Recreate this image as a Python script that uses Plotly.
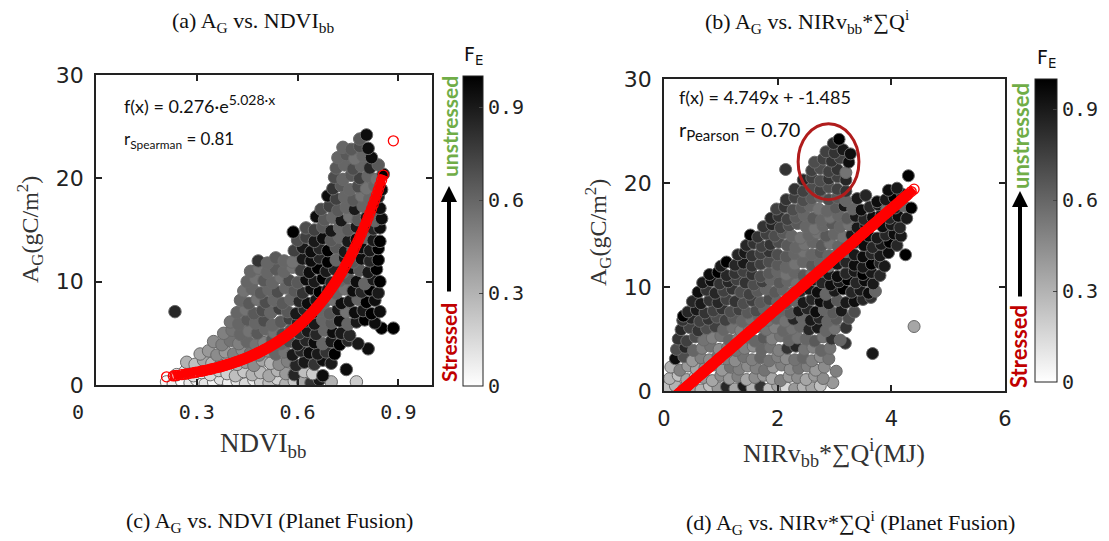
import numpy as np
import plotly.graph_objects as go

W, H = 1109, 541

# ---- panel (a): A_G against broadband NDVI, coloured by F_E ----
ndvi_x = [
    0.21, 0.23, 0.255, 0.28, 0.30, 0.325, 0.35, 0.37, 0.395, 0.42, 0.445, 0.47, 0.49, 0.515, 0.54, 0.565, 0.59, 0.615, 0.64, 0.665, 0.70, 0.775,
    0.24, 0.265, 0.29, 0.315, 0.34, 0.365, 0.39, 0.415, 0.44, 0.465, 0.49, 0.515, 0.54, 0.565, 0.59, 0.62, 0.645, 0.675, 0.745,
    0.27, 0.295, 0.32, 0.345, 0.37, 0.395, 0.42, 0.445, 0.47, 0.495, 0.52, 0.545, 0.57, 0.595, 0.62, 0.65, 0.675, 0.70,
    0.31, 0.335, 0.36, 0.385, 0.41, 0.435, 0.46, 0.485, 0.51, 0.535, 0.56, 0.585, 0.61, 0.635, 0.66, 0.685, 0.71, 0.81,
    0.35, 0.375, 0.40, 0.425, 0.45, 0.475, 0.50, 0.525, 0.55, 0.575, 0.60, 0.625, 0.65, 0.675, 0.70, 0.725, 0.75, 0.78,
    0.38, 0.405, 0.43, 0.455, 0.48, 0.505, 0.53, 0.555, 0.58, 0.605, 0.63, 0.655, 0.68, 0.705, 0.73, 0.755, 0.85, 0.885,
    0.40, 0.425, 0.45, 0.475, 0.50, 0.525, 0.55, 0.575, 0.60, 0.625, 0.65, 0.675, 0.70, 0.725, 0.75, 0.775, 0.80, 0.83,
    0.235, 0.42, 0.445, 0.47, 0.495, 0.52, 0.545, 0.57, 0.595, 0.62, 0.645, 0.67, 0.695, 0.72, 0.745, 0.77, 0.795, 0.82, 0.845,
    0.43, 0.455, 0.48, 0.505, 0.53, 0.555, 0.58, 0.605, 0.63, 0.655, 0.68, 0.705, 0.73, 0.755, 0.78, 0.805, 0.83,
    0.44, 0.465, 0.49, 0.515, 0.54, 0.565, 0.59, 0.615, 0.64, 0.665, 0.69, 0.715, 0.74, 0.765, 0.79, 0.815, 0.84,
    0.45, 0.475, 0.50, 0.525, 0.55, 0.575, 0.60, 0.625, 0.65, 0.675, 0.70, 0.725, 0.75, 0.775, 0.80, 0.825, 0.845,
    0.46, 0.485, 0.51, 0.535, 0.56, 0.585, 0.61, 0.635, 0.66, 0.685, 0.71, 0.735, 0.76, 0.785, 0.81, 0.835,
    0.483, 0.51, 0.535, 0.56, 0.585, 0.615, 0.64, 0.665, 0.69, 0.715, 0.74, 0.765, 0.79, 0.815, 0.84,
    0.59, 0.615, 0.64, 0.665, 0.69, 0.715, 0.74, 0.765, 0.79, 0.815, 0.84,
    0.60, 0.625, 0.65, 0.675, 0.70, 0.725, 0.75, 0.775, 0.80, 0.825, 0.845,
    0.587, 0.625, 0.65, 0.675, 0.70, 0.725, 0.75, 0.775, 0.80, 0.825, 0.845,
    0.656, 0.68, 0.705, 0.73, 0.755, 0.78, 0.805, 0.83, 0.85,
    0.67, 0.695, 0.72, 0.745, 0.77, 0.795, 0.82, 0.845,
    0.69, 0.715, 0.74, 0.765, 0.79, 0.815, 0.84,
    0.705, 0.73, 0.755, 0.78, 0.805, 0.83, 0.85,
    0.71, 0.735, 0.76, 0.785, 0.81, 0.835, 0.855,
    0.715, 0.74, 0.765, 0.79, 0.815, 0.84,
    0.72, 0.745, 0.77, 0.795, 0.82,
    0.735, 0.76, 0.785, 0.81,
    0.785, 0.805,
]
ndvi_ag = [
    0.3, 0.1, 0.4, 0.2, 0.5, 0.1, 0.3, 0.6, 0.2, 0.4, 0.1, 0.5, 0.3, 0.2, 0.6, 0.1, 0.4, 0.3, 0.2, 0.5, 0.3, 0.3,
    1.0, 1.3, 0.9, 1.2, 1.0, 1.4, 1.1, 0.9, 1.3, 1.0, 1.2, 0.9, 1.4, 1.1, 1.0, 1.3, 1.1, 0.9, 1.5,
    2.2, 2.0, 2.4, 2.1, 1.9, 2.3, 2.0, 2.2, 1.9, 2.4, 2.1, 2.0, 2.3, 1.9, 2.2, 2.0, 2.4, 2.1,
    3.0, 3.3, 2.9, 3.2, 3.0, 3.4, 3.1, 2.9, 3.3, 3.0, 3.2, 2.9, 3.3, 3.1, 3.0, 3.2, 3.0, 3.5,
    4.2, 3.9, 4.3, 4.0, 4.2, 3.9, 4.1, 4.4, 4.0, 4.2, 3.9, 4.3, 4.1, 4.0, 4.2, 3.9, 4.3, 4.0,
    5.0, 5.3, 4.9, 5.2, 5.0, 5.4, 5.1, 4.9, 5.3, 5.0, 5.2, 4.9, 5.3, 5.1, 5.0, 4.8, 5.5, 5.5,
    6.1, 5.9, 6.3, 6.0, 6.2, 5.8, 6.1, 6.4, 6.0, 6.2, 5.9, 6.3, 6.0, 6.2, 5.9, 6.1, 6.3, 6.0,
    7.1, 7.0, 7.3, 6.9, 7.2, 7.0, 7.4, 7.1, 6.9, 7.3, 7.0, 7.2, 6.9, 7.3, 7.1, 7.0, 7.2, 6.9, 7.1,
    8.2, 7.9, 8.3, 8.0, 8.2, 7.9, 8.3, 8.1, 7.9, 8.2, 8.0, 8.3, 7.9, 8.1, 8.3, 8.0, 8.2,
    9.1, 9.3, 8.9, 9.2, 9.0, 9.4, 9.1, 8.9, 9.3, 9.0, 9.2, 8.9, 9.3, 9.1, 9.0, 9.2, 8.9,
    10.0, 10.3, 10.1, 9.9, 10.4, 10.1, 9.9, 10.2, 10.0, 10.3, 9.9, 10.1, 10.3, 10.0, 9.8, 10.2, 10.0,
    11.0, 11.3, 10.9, 11.2, 11.0, 11.4, 11.1, 10.9, 11.3, 11.0, 11.2, 10.9, 11.3, 11.1, 10.9, 11.2,
    12.0, 11.8, 12.3, 12.0, 11.9, 12.2, 12.0, 12.3, 11.9, 12.1, 12.3, 11.9, 12.2, 12.0, 12.1,
    13.0, 13.3, 12.9, 13.2, 13.0, 13.3, 12.9, 13.1, 13.3, 13.0, 13.2,
    14.0, 14.3, 13.9, 14.2, 14.0, 14.3, 13.9, 14.1, 14.3, 14.0, 13.9,
    14.8, 15.2, 15.0, 15.3, 14.9, 15.2, 15.0, 15.3, 14.9, 15.1, 15.2,
    16.3, 16.0, 16.2, 15.9, 16.3, 16.0, 16.2, 15.9, 16.1,
    17.0, 17.3, 16.9, 17.2, 17.0, 17.3, 16.9, 17.1,
    18.3, 18.0, 18.2, 17.9, 18.3, 18.0, 18.2,
    19.0, 19.3, 18.9, 19.2, 19.0, 19.3, 18.9,
    20.1, 19.9, 20.3, 20.0, 20.2, 19.9, 20.4,
    21.0, 21.3, 20.9, 21.2, 21.0, 21.3,
    22.0, 22.3, 21.9, 22.2, 22.0,
    23.0, 22.8, 23.1, 22.9,
    23.8, 24.2,
]
ndvi_fe = [
    0.02, 0.05, 0.0, 0.08, 0.03, 0.1, 0.04, 0.12, 0.06, 0.1, 0.15, 0.08, 0.2, 0.25, 0.18, 0.3, 0.22, 0.35, 0.8, 0.9, 0.3, 0.2,
    0.05, 0.1, 0.12, 0.08, 0.15, 0.2, 0.18, 0.25, 0.22, 0.3, 0.28, 0.35, 0.3, 0.4, 0.85, 0.25, 0.2, 0.95, 0.95,
    0.3, 0.25, 0.35, 0.3, 0.4, 0.35, 0.3, 0.4, 0.45, 0.35, 0.3, 0.45, 0.5, 0.85, 0.9, 0.8, 0.95, 0.9,
    0.35, 0.4, 0.45, 0.4, 0.5, 0.45, 0.55, 0.5, 0.45, 0.6, 0.55, 0.9, 0.85, 0.95, 0.9, 0.8, 1.0, 0.95,
    0.45, 0.5, 0.55, 0.5, 0.6, 0.55, 0.5, 0.65, 0.6, 0.7, 0.9, 0.85, 0.95, 0.6, 0.9, 1.0, 0.85, 0.9,
    0.5, 0.55, 0.6, 0.55, 0.65, 0.6, 0.55, 0.7, 0.65, 0.8, 0.9, 0.85, 0.6, 0.95, 0.9, 0.85, 1.0, 1.0,
    0.55, 0.6, 0.65, 0.6, 0.7, 0.6, 0.65, 0.75, 0.85, 0.95, 0.9, 0.6, 0.65, 0.95, 0.6, 0.9, 1.0, 0.95,
    0.85, 0.6, 0.55, 0.65, 0.7, 0.6, 0.75, 0.65, 0.9, 0.85, 0.95, 0.6, 0.65, 0.9, 0.55, 0.95, 0.9, 1.0, 0.95,
    0.6, 0.65, 0.55, 0.7, 0.6, 0.65, 0.6, 0.85, 0.95, 0.9, 0.6, 0.55, 0.95, 0.9, 0.6, 1.0, 0.95,
    0.55, 0.6, 0.65, 0.6, 0.7, 0.6, 0.65, 0.8, 0.95, 1.0, 0.9, 0.6, 0.55, 0.95, 0.85, 1.0, 0.9,
    0.6, 0.55, 0.65, 0.6, 0.55, 0.7, 0.65, 0.95, 0.9, 1.0, 0.85, 0.6, 0.65, 0.95, 0.6, 0.9, 1.0,
    0.6, 0.55, 0.6, 0.65, 0.6, 0.55, 0.75, 0.95, 1.0, 0.9, 0.85, 0.6, 0.95, 0.65, 0.9, 1.0,
    0.8, 0.6, 0.65, 0.6, 0.55, 0.9, 0.95, 0.85, 1.0, 0.6, 0.9, 0.65, 0.95, 0.85, 1.0,
    0.75, 0.9, 0.95, 0.85, 1.0, 0.65, 0.9, 0.6, 0.95, 0.9, 1.0,
    0.7, 0.75, 0.9, 0.95, 0.65, 0.6, 0.9, 0.95, 0.6, 0.9, 1.0,
    1.0, 0.7, 0.75, 0.65, 0.9, 0.6, 0.65, 0.9, 0.6, 0.85, 0.95,
    0.95, 0.65, 0.6, 0.9, 0.55, 0.65, 0.9, 0.6, 0.95,
    0.7, 0.75, 0.65, 0.6, 0.9, 0.6, 0.65, 0.95,
    0.95, 0.75, 0.6, 0.65, 0.55, 0.6, 0.9,
    0.8, 0.65, 0.6, 0.7, 0.55, 0.6, 0.95,
    0.7, 0.6, 0.65, 0.75, 0.6, 0.55, 1.0,
    0.65, 0.6, 0.7, 0.6, 0.85, 0.65,
    0.6, 0.65, 0.55, 0.6, 0.95,
    0.6, 0.65, 0.7, 0.95,
    0.65, 0.95,
]

# ---- panel (b): A_G against NIRv_bb * cumulative Q, coloured by F_E ----
nirv_x = [
    0.05, 0.2, 0.35, 0.5, 0.65, 0.8, 0.95, 1.1, 1.25, 1.4, 1.55, 1.7, 1.85, 2.0, 2.15, 2.3, 2.45, 2.6, 2.75, 2.97,
    0.1, 0.25, 0.4, 0.55, 0.7, 0.85, 1.0, 1.15, 1.3, 1.45, 1.6, 1.75, 1.9, 2.05, 2.2, 2.35, 2.5, 2.65, 2.8,
    0.12, 0.28, 0.42, 0.57, 0.72, 0.87, 1.02, 1.17, 1.32, 1.47, 1.62, 1.77, 1.92, 2.07, 2.22, 2.37, 2.52, 2.67, 2.82, 3.03,
    0.2, 0.35, 0.5, 0.65, 0.8, 0.95, 1.1, 1.25, 1.4, 1.55, 1.7, 1.85, 2.0, 2.15, 2.3, 2.45, 2.6, 2.75, 2.9, 3.67,
    0.22, 0.37, 0.52, 0.67, 0.82, 0.97, 1.12, 1.27, 1.42, 1.57, 1.72, 1.87, 2.02, 2.17, 2.32, 2.47, 2.62, 2.77, 2.92, 3.19,
    0.25, 0.4, 0.55, 0.7, 0.85, 1.0, 1.15, 1.3, 1.45, 1.6, 1.75, 1.9, 2.05, 2.2, 2.35, 2.5, 2.65, 2.8, 2.95, 3.1,
    0.3, 0.45, 0.6, 0.75, 0.9, 1.05, 1.2, 1.35, 1.5, 1.65, 1.8, 1.95, 2.1, 2.25, 2.4, 2.55, 2.7, 2.85, 3.0, 3.2,
    0.33, 0.48, 0.63, 0.78, 0.93, 1.08, 1.23, 1.38, 1.53, 1.68, 1.83, 1.98, 2.13, 2.28, 2.43, 2.58, 2.73, 2.88, 3.03, 3.25, 4.40,
    0.34, 0.42, 0.57, 0.72, 0.87, 1.02, 1.17, 1.32, 1.47, 1.62, 1.77, 1.92, 2.07, 2.22, 2.37, 2.52, 2.67, 2.82, 2.97, 3.12, 3.35,
    0.5, 0.65, 0.8, 0.95, 1.1, 1.25, 1.4, 1.55, 1.7, 1.85, 2.0, 2.15, 2.3, 2.45, 2.6, 2.75, 2.9, 3.05, 3.2, 3.35, 3.5, 3.64,
    0.6, 0.75, 0.9, 1.05, 1.2, 1.35, 1.5, 1.65, 1.8, 1.95, 2.1, 2.25, 2.4, 2.55, 2.7, 2.85, 3.0, 3.15, 3.3, 3.45, 3.6, 3.72,
    0.68, 0.83, 0.98, 1.13, 1.28, 1.43, 1.58, 1.73, 1.88, 2.03, 2.18, 2.33, 2.48, 2.63, 2.78, 2.93, 3.08, 3.23, 3.38, 3.53, 3.68,
    0.8, 0.95, 1.1, 1.25, 1.4, 1.55, 1.7, 1.85, 2.0, 2.15, 2.3, 2.45, 2.6, 2.75, 2.9, 3.05, 3.2, 3.35, 3.5, 3.65, 3.8,
    1.0, 1.1, 1.25, 1.4, 1.55, 1.7, 1.85, 2.0, 2.15, 2.3, 2.45, 2.6, 2.75, 2.9, 3.05, 3.2, 3.35, 3.5, 3.65, 3.8, 3.88,
    1.3, 1.42, 1.55, 1.7, 1.85, 2.0, 2.15, 2.3, 2.45, 2.6, 2.75, 2.9, 3.05, 3.2, 3.35, 3.5, 3.65, 3.8, 3.95, 4.25,
    1.45, 1.58, 1.72, 1.87, 2.02, 2.17, 2.32, 2.47, 2.62, 2.77, 2.92, 3.07, 3.22, 3.37, 3.52, 3.67, 3.82, 3.97, 4.1,
    1.52, 1.65, 1.8, 1.95, 2.1, 2.25, 2.4, 2.55, 2.7, 2.85, 3.0, 3.15, 3.3, 3.45, 3.6, 3.75, 3.9, 4.05, 4.17,
    1.75, 1.9, 2.05, 2.2, 2.35, 2.5, 2.65, 2.8, 2.95, 3.1, 3.25, 3.4, 3.55, 3.7, 3.85, 4.0, 4.15,
    1.88, 2.02, 2.17, 2.32, 2.47, 2.62, 2.77, 2.92, 3.07, 3.22, 3.37, 3.52, 3.67, 3.82, 3.97, 4.12, 4.27,
    1.98, 2.12, 2.27, 2.42, 2.57, 2.72, 2.87, 3.02, 3.17, 3.32, 3.47, 3.62, 3.77, 3.92, 4.07, 4.22, 4.35,
    2.15, 2.3, 2.45, 2.6, 2.75, 2.9, 3.05, 3.2, 3.4, 3.55, 3.75, 3.9, 4.05, 4.2,
    2.3, 2.45, 2.6, 2.75, 2.9, 3.05, 3.2, 3.95, 4.1,
    2.45, 2.6, 2.75, 2.9, 3.05, 3.2, 4.30,
    2.14, 2.6, 2.75, 2.9, 3.05, 3.2,
    2.65, 2.8, 2.95, 3.1, 3.25,
    2.85, 3.0, 3.15, 3.28,
    2.98, 3.08,
]
nirv_ag = [
    0.3, 0.5, 0.2, 0.4, 0.1, 0.5, 0.3, 0.4, 0.2, 0.5, 0.3, 0.4, 0.2, 0.5, 0.3, 0.2, 0.4, 0.3, 0.5, 0.8,
    1.2, 1.5, 1.1, 1.4, 1.3, 1.0, 1.5, 1.2, 1.4, 1.1, 1.3, 1.5, 1.2, 1.0, 1.4, 1.3, 1.1, 1.5, 1.2,
    2.3, 2.0, 2.4, 2.1, 2.2, 2.5, 2.0, 2.3, 2.1, 2.4, 2.2, 2.0, 2.3, 2.5, 2.1, 2.2, 2.4, 2.0, 2.3, 1.9,
    3.1, 3.3, 2.9, 3.2, 3.0, 3.4, 3.1, 2.9, 3.3, 3.0, 3.2, 2.9, 3.3, 3.1, 3.0, 3.2, 2.9, 3.3, 3.1, 3.6,
    4.0, 4.2, 3.9, 4.1, 4.3, 4.0, 4.2, 3.9, 4.1, 4.3, 4.0, 4.2, 3.9, 4.1, 4.3, 4.0, 4.2, 3.9, 4.1, 4.6,
    5.0, 4.8, 5.2, 4.9, 5.1, 5.3, 4.9, 5.0, 5.2, 4.8, 5.1, 5.0, 5.3, 4.9, 5.1, 5.0, 4.8, 5.2, 5.0, 4.9,
    5.9, 6.1, 5.8, 6.0, 6.2, 5.9, 6.1, 5.8, 6.0, 6.2, 5.9, 6.1, 5.8, 6.0, 6.2, 5.9, 6.1, 5.8, 6.0, 6.1,
    6.8, 7.0, 6.7, 6.9, 7.1, 6.8, 7.0, 6.7, 6.9, 7.1, 6.8, 7.0, 6.7, 6.9, 7.1, 6.8, 7.0, 6.7, 6.9, 7.0, 6.2,
    7.2, 7.6, 7.8, 7.5, 7.7, 7.9, 7.6, 7.8, 7.5, 7.7, 7.9, 7.6, 7.8, 7.5, 7.7, 7.9, 7.6, 7.8, 7.5, 7.7, 7.6,
    8.6, 8.4, 8.7, 8.5, 8.8, 8.6, 8.4, 8.7, 8.5, 8.8, 8.6, 8.4, 8.7, 8.5, 8.8, 8.6, 8.4, 8.7, 8.5, 8.6, 8.8, 9.0,
    9.5, 9.7, 9.4, 9.6, 9.8, 9.5, 9.3, 9.6, 9.8, 9.5, 9.7, 9.4, 9.6, 9.8, 9.5, 9.3, 9.6, 9.8, 9.5, 9.7, 9.4, 9.6,
    10.4, 10.6, 10.3, 10.5, 10.7, 10.4, 10.2, 10.5, 10.7, 10.4, 10.6, 10.3, 10.5, 10.7, 10.4, 10.2, 10.5, 10.7, 10.4, 10.6, 10.3,
    11.2, 11.4, 11.1, 11.3, 11.5, 11.2, 11.0, 11.3, 11.5, 11.2, 11.4, 11.1, 11.3, 11.5, 11.2, 11.0, 11.3, 11.5, 11.2, 11.4, 11.1,
    12.0, 12.4, 12.1, 12.3, 12.0, 12.2, 12.4, 12.1, 11.9, 12.2, 12.4, 12.1, 12.3, 12.0, 12.2, 12.4, 12.1, 11.9, 12.2, 12.3, 12.0,
    13.1, 13.3, 13.0, 13.2, 13.4, 13.1, 12.9, 13.2, 13.4, 13.1, 13.3, 13.0, 13.2, 13.4, 13.1, 12.9, 13.2, 13.0, 13.3, 13.1,
    14.0, 14.2, 13.9, 14.1, 14.3, 14.0, 13.8, 14.1, 14.3, 14.0, 14.2, 13.9, 14.1, 14.3, 14.0, 13.8, 14.1, 14.3, 14.0,
    15.0, 14.8, 15.1, 14.9, 15.2, 14.9, 14.7, 15.0, 15.2, 14.9, 15.1, 14.8, 15.0, 15.2, 14.9, 14.7, 15.0, 15.1, 14.9,
    15.8, 16.0, 15.7, 15.9, 16.1, 15.8, 15.6, 15.9, 16.1, 15.8, 16.0, 15.7, 15.9, 16.1, 15.8, 16.0, 15.7,
    16.6, 16.8, 16.5, 16.7, 16.9, 16.6, 16.4, 16.7, 16.9, 16.6, 16.8, 16.5, 16.7, 16.9, 16.6, 16.8, 16.6,
    17.5, 17.7, 17.4, 17.6, 17.8, 17.5, 17.3, 17.6, 17.8, 17.5, 17.4, 17.7, 17.9, 17.5, 17.6, 17.8, 17.6,
    18.4, 18.6, 18.3, 18.5, 18.7, 18.4, 18.6, 18.3, 18.5, 18.8, 18.2, 18.4, 18.6, 18.9,
    19.4, 19.2, 19.5, 19.3, 19.6, 19.4, 19.2, 19.3, 19.5,
    20.3, 20.5, 20.2, 20.4, 20.6, 20.3, 20.7,
    21.3, 21.2, 21.4, 21.1, 21.3, 21.0,
    22.0, 22.3, 22.1, 22.4, 22.0,
    23.0, 22.9, 23.2, 22.8,
    23.8, 24.2,
]
nirv_fe = [
    0.25, 0.3, 0.2, 0.35, 0.3, 0.25, 0.4, 0.85, 0.35, 0.9, 0.3, 0.8, 0.25, 0.35, 0.15, 0.4, 0.3, 0.35, 0.25, 0.4,
    0.3, 0.25, 0.35, 0.3, 0.4, 0.35, 0.45, 0.4, 0.5, 0.35, 0.45, 0.4, 0.35, 0.5, 0.4, 0.45, 0.35, 0.4, 0.45,
    0.3, 0.5, 0.4, 0.35, 0.45, 0.5, 0.4, 0.55, 0.5, 0.45, 0.5, 0.55, 0.4, 0.5, 0.45, 0.55, 0.5, 0.4, 0.45, 0.5,
    0.95, 0.7, 0.4, 0.5, 0.45, 0.55, 0.5, 0.45, 0.55, 0.5, 0.6, 0.55, 0.5, 0.45, 0.55, 0.6, 0.5, 0.45, 0.55, 0.9,
    0.7, 0.85, 0.6, 0.5, 0.55, 0.45, 0.5, 0.55, 0.5, 0.45, 0.6, 0.55, 0.5, 0.8, 0.85, 0.55, 0.5, 0.6, 0.55, 0.8,
    0.8, 0.75, 0.7, 0.55, 0.5, 0.55, 0.6, 0.5, 0.55, 0.6, 0.65, 0.5, 0.55, 0.6, 0.55, 0.6, 0.65, 0.55, 0.8, 0.6,
    0.85, 0.75, 0.8, 0.7, 0.75, 0.6, 0.55, 0.5, 0.55, 0.6, 0.55, 0.5, 0.6, 0.55, 0.6, 0.85, 0.9, 0.6, 0.55, 0.8,
    0.8, 0.85, 0.75, 0.8, 0.7, 0.75, 0.65, 0.6, 0.55, 0.6, 0.55, 0.6, 0.55, 0.85, 0.6, 0.9, 0.85, 0.6, 0.65, 0.7, 0.35,
    1.0, 0.85, 0.9, 0.8, 0.75, 0.8, 0.7, 0.75, 0.65, 0.7, 0.6, 0.55, 0.6, 0.65, 0.9, 0.85, 0.95, 0.6, 0.65, 0.9, 0.7,
    0.85, 0.9, 0.8, 0.85, 0.75, 0.8, 0.7, 0.75, 0.65, 0.7, 0.6, 0.65, 0.6, 0.9, 0.85, 0.95, 0.9, 0.65, 0.9, 0.95, 0.85, 0.8,
    0.95, 0.8, 0.85, 0.75, 0.8, 0.7, 0.75, 0.65, 0.6, 0.65, 0.6, 0.55, 0.85, 0.9, 0.95, 0.6, 0.9, 1.0, 0.85, 0.9, 0.95, 0.6,
    0.9, 0.95, 0.8, 0.85, 0.75, 0.8, 0.7, 0.75, 0.6, 0.65, 0.6, 0.55, 0.6, 0.9, 0.85, 0.95, 0.9, 1.0, 0.85, 0.95, 0.9,
    0.95, 1.0, 0.85, 0.8, 0.75, 0.8, 0.7, 0.65, 0.6, 0.55, 0.6, 0.65, 0.55, 0.6, 0.9, 0.95, 0.85, 0.9, 1.0, 0.9, 0.85,
    0.9, 1.0, 0.85, 0.9, 0.8, 0.75, 0.7, 0.65, 0.6, 0.55, 0.6, 0.65, 0.6, 0.55, 0.9, 0.85, 0.95, 0.9, 1.0, 0.85, 0.9,
    0.85, 0.9, 0.8, 0.75, 0.8, 0.7, 0.65, 0.6, 0.55, 0.6, 0.65, 0.6, 0.55, 0.6, 0.9, 0.95, 0.85, 0.9, 0.95, 1.0,
    0.85, 0.8, 0.75, 0.8, 0.7, 0.65, 0.6, 0.55, 0.6, 0.65, 0.55, 0.6, 0.65, 0.9, 0.95, 0.85, 0.9, 1.0, 0.85,
    1.0, 0.8, 0.75, 0.7, 0.65, 0.6, 0.55, 0.6, 0.55, 0.65, 0.6, 0.55, 0.9, 0.85, 0.95, 0.9, 0.85, 0.95, 0.9,
    0.8, 0.85, 0.75, 0.7, 0.65, 0.6, 0.55, 0.6, 0.65, 0.6, 0.55, 0.9, 0.95, 0.85, 0.95, 0.9, 0.85,
    0.85, 0.8, 0.75, 0.65, 0.6, 0.65, 0.6, 0.55, 0.6, 0.65, 0.9, 0.85, 0.95, 0.9, 0.85, 0.95, 0.9,
    0.75, 0.8, 0.7, 0.65, 0.6, 0.55, 0.6, 0.65, 0.9, 0.6, 0.95, 0.85, 0.9, 0.55, 0.85, 0.6, 1.0,
    0.8, 0.75, 0.7, 0.65, 0.6, 0.7, 0.65, 0.6, 0.9, 0.85, 0.95, 0.9, 1.0, 0.9,
    0.8, 0.75, 0.7, 0.75, 0.7, 0.75, 0.8, 0.95, 0.9,
    0.85, 0.75, 0.7, 0.8, 0.75, 0.85, 1.0,
    0.8, 0.75, 0.7, 0.75, 0.8, 0.55,
    0.7, 0.75, 0.8, 0.75, 0.95,
    0.75, 0.8, 0.9, 0.95,
    0.85, 1.0,
]

# fitted models as printed on each panel
exp_coef, exp_rate = 0.276, 5.028
lin_slope, lin_icpt = 4.749, -1.485

ndvi_ticks = [0, 0.3, 0.6, 0.9]
nirv_ticks = [0, 2, 4, 6]
ag_ticks = [0, 10, 20, 30]
fe_ticks = [0, 0.3, 0.6, 0.9]


def px(x):
    return x / W


def py(y):
    return 1 - y / H


def fit_path(xs, model, max_gap):
    """Fitted values along the sorted sample abscissae, broken where samples are sparse."""
    xs = np.unique(np.asarray(xs, dtype=float))
    lx, ly = [], []
    for i, v in enumerate(xs):
        if i and v - xs[i - 1] > max_gap:
            lx.append(None)
            ly.append(None)
        lx.append(v)
        ly.append(float(model(v)))
    return xs, lx, ly


INK = "#222222"
RED = "#ff0000"
edge = dict(color="rgb(105,105,105)", width=1)

fig = go.Figure()


def add_panel(xs, ys, fe, model, max_gap, xa, ya, cax, size):
    fig.add_trace(go.Scatter(
        x=xs, y=ys, mode="markers", xaxis=xa, yaxis=ya,
        marker=dict(size=size, color=fe, coloraxis=cax, line=edge),
        showlegend=False, hoverinfo="skip"))
    ux, lx, ly = fit_path(xs, model, max_gap)
    fig.add_trace(go.Scatter(
        x=lx, y=ly, mode="lines", xaxis=xa, yaxis=ya,
        line=dict(color=RED, width=8), connectgaps=False,
        showlegend=False, hoverinfo="skip"))
    fig.add_trace(go.Scatter(
        x=ux, y=model(ux), mode="markers", xaxis=xa, yaxis=ya,
        marker=dict(symbol="circle-open", size=10, color=RED, line=dict(width=1.3)),
        showlegend=False, hoverinfo="skip"))


add_panel(ndvi_x, ndvi_ag, ndvi_fe, lambda v: exp_coef * np.exp(exp_rate * v),
          0.02, "x", "y", "coloraxis", 12.5)
add_panel(nirv_x, nirv_ag, nirv_fe, lambda v: lin_slope * v + lin_icpt,
          0.2, "x2", "y2", "coloraxis2", 12)

frame = dict(showline=True, linecolor=INK, linewidth=1.5, mirror="ticks",
             ticks="inside", ticklen=6, tickwidth=1.5, tickcolor=INK,
             showgrid=False, zeroline=False)
mono = dict(family="DejaVu Sans Mono", size=20, color=INK)
sans = dict(family="DejaVu Sans", size=22, color=INK)


def fe_bar(x0, y0, length, thick):
    return dict(
        colorscale=[[0, "#ffffff"], [1, "#000000"]], cmin=0, cmax=1,
        colorbar=dict(x=px(x0), xanchor="left", y=py(y0), yanchor="top",
                      len=length, lenmode="pixels", thickness=thick,
                      thicknessmode="pixels", outlinewidth=1, outlinecolor=INK,
                      tickvals=fe_ticks, ticktext=["0", "0.3", "0.6", "0.9"],
                      ticks="inside", ticklen=4, tickcolor="#444444",
                      tickfont=mono, xpad=0, ypad=0))


fig.update_layout(
    width=W, height=H, margin=dict(l=0, r=0, t=0, b=0, autoexpand=False),
    paper_bgcolor="white", plot_bgcolor="white",
    xaxis=dict(domain=[px(96), px(432)], range=[0, 1.0], anchor="y",
               tickvals=ndvi_ticks,
               ticktext=["0\u00a0\u00a0\u00a0", "0.3", "0.6", "0.9"],
               tickfont=mono, ticklabelstandoff=8, **frame),
    yaxis=dict(domain=[py(385), py(75)], range=[0, 30], anchor="x",
               tickvals=ag_ticks, tickfont=sans, ticklabelstandoff=6, **frame),
    xaxis2=dict(domain=[px(664), px(1005)], range=[0, 6], anchor="y2",
                tickvals=nirv_ticks, tickfont=dict(family="DejaVu Sans", size=21, color=INK),
                ticklabelstandoff=8, **frame),
    yaxis2=dict(domain=[py(391), py(79)], range=[0, 30], anchor="x2",
                tickvals=ag_ticks, tickfont=sans, ticklabelstandoff=6, **frame),
    coloraxis=fe_bar(463, 76, 310, 20),
    coloraxis2=fe_bar(1035, 79, 303, 22),
)

serif = "Liberation Serif"
calib = "Lato"


def sized(txt, pxsize):
    return '<span style="font-size:%dpx">%s</span>' % (pxsize, txt)


notes = [
    # panel titles and captions
    dict(text="(a) A<sub>G</sub> vs. NDVI<sub>bb</sub>", x=253, y=22, size=22, family=serif),
    dict(text="(b) A<sub>G</sub> vs. NIRv<sub>bb</sub>*\u2211Q<sup>i</sup>", x=807, y=22, size=22, family=serif),
    dict(text="(c) A<sub>G</sub> vs. NDVI (Planet Fusion)", x=269, y=522, size=22, family=serif),
    dict(text="(d) A<sub>G</sub> vs. NIRv*\u2211Q<sup>i</sup> (Planet Fusion)", x=850, y=522, size=22, family=serif),
    # axis titles
    dict(text="A<sub>G</sub>(gC/m<sup>2</sup>)", x=30, y=230, size=24, family=serif, angle=-90, color="#333333"),
    dict(text="A<sub>G</sub>(gC/m<sup>2</sup>)", x=598, y=233, size=24, family=serif, angle=-90, color="#333333"),
    dict(text="NDVI<sub>bb</sub>", x=263, y=445, size=27, family=serif, color="#333333"),
    dict(text="NIRv<sub>bb</sub>*\u2211Q<sup>i</sup>(MJ)", x=834, y=453, size=26, family=serif, color="#333333"),
    # fit statistics
    dict(text="f(x) = 0.276\u00b7e<sup>" + sized("5.028\u00b7x", 14) + "</sup>",
         x=122, y=104, size=18, family=calib, xanchor="left"),
    dict(text="r<sub>Spearman</sub> = 0.81", x=122, y=140, size=17, family=calib, xanchor="left"),
    dict(text="f(x) = 4.749x + -1.485", x=677, y=97, size=18, family=calib, xanchor="left"),
    dict(text="r<sub>" + sized("Pearson", 15) + "</sub> = 0.70",
         x=677, y=131, size=20, family=calib, xanchor="left"),
    # colour bar titles
    dict(text="F<sub>E</sub>", x=462, y=56, size=19, family="DejaVu Sans", xanchor="left"),
    dict(text="F<sub>E</sub>", x=1035, y=58, size=19, family="DejaVu Sans", xanchor="left"),
    # stress direction labels
    dict(text="<b>unstressed</b>", x=450, y=127, size=21, family=calib, angle=-90, color="#70ad47"),
    dict(text="<b>Stressed</b>", x=448, y=343, size=21, family=calib, angle=-90, color="#c00000"),
    dict(text="<b>unstressed</b>", x=1020, y=136, size=22, family=calib, angle=-90, color="#70ad47"),
    dict(text="<b>Stressed</b>", x=1018, y=347, size=22, family=calib, angle=-90, color="#c00000"),
]
annotations = []
for n in notes:
    annotations.append(dict(
        text=n["text"], x=px(n["x"]), y=py(n["y"]), xref="paper", yref="paper",
        xanchor=n.get("xanchor", "center"), yanchor="middle", showarrow=False,
        textangle=n.get("angle", 0),
        font=dict(family=n["family"], size=n["size"], color=n.get("color", "#111111"))))

# upward arrows from "Stressed" to "unstressed"
for ax_x, head_y in [(449, 186), (1020, 191)]:
    annotations.append(dict(
        text="", x=px(ax_x), y=py(head_y), xref="paper", yref="paper",
        showarrow=True, ax=0, ay=107, axref="pixel", ayref="pixel",
        arrowhead=2, arrowsize=0.8, arrowwidth=4, arrowcolor="#000000", standoff=0))

fig.update_layout(annotations=annotations)

# outlier cluster marked in panel (b)
fig.add_shape(type="circle", xref="x2", yref="y2", x0=2.36, x1=3.43, y0=18.4, y1=25.7,
              line=dict(color="#b01c1c", width=3))

fig.write_html("out.html")
